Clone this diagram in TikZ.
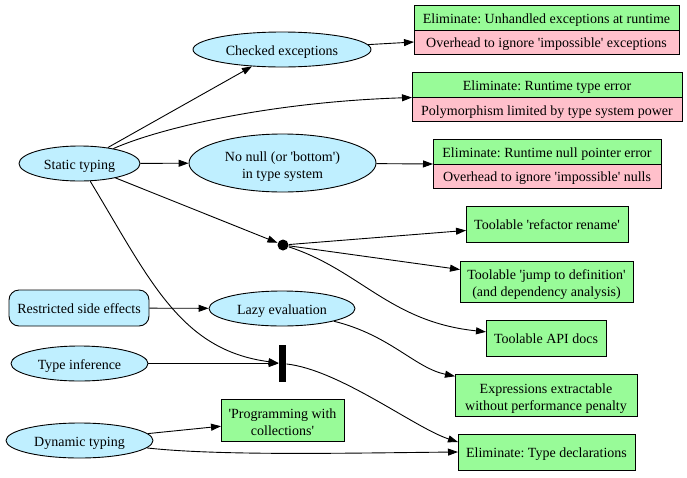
\documentclass[tikz,border=0pt]{standalone}
\usepackage{fontspec}
\setmainfont{Liberation Serif}
\usepackage{tikz}
\usetikzlibrary{shapes.geometric,arrows.meta,positioning,calc}
\definecolor{skyfill}{RGB}{191,239,255}
\definecolor{gainfill}{RGB}{152,251,152}
\definecolor{costfill}{RGB}{255,192,203}
\newcommand{\tq}{\textquotesingle}
\frenchspacing
\tikzstyle{dep}=[
  x=1pt,y=-1pt,>={Triangle[length=10pt,width=7pt]},line width=0.9pt,
  every node/.style={font=\fontsize{14}{17}\selectfont,align=center,inner sep=0pt,
    text height=11.5pt,text depth=0pt}
]
\tikzstyle{twoline}=[
  text height=30.5pt,text depth=0pt
]
\tikzstyle{feat}=[
  draw,ellipse,fill=skyfill,minimum height=35pt
]
\tikzstyle{gain}=[
  draw,rectangle,fill=gainfill,outer sep=0pt
]
\tikzstyle{cost}=[
  draw,rectangle,fill=costfill,outer sep=0pt
]

\begin{document}
\begin{tikzpicture}[dep]
    \useasboundingbox (0,0) rectangle (687,477);
    % features
    \node[feat,minimum width=121pt] (st) at (79.5,163.5) {Static typing};
    \node[feat,minimum width=178pt] (chk) at (282,49.5) {Checked exceptions};
    \node[feat,twoline,minimum width=187pt,minimum height=58pt] (nn) at (282.5,163) {No null (or \tq bottom\tq)\\in type system};
    \node[circle,fill=black,minimum size=11pt,text height=0pt] (dot) at (283,245) {};
    \node[draw,fill=skyfill,rounded corners=10pt,minimum width=140pt,minimum height=36pt] (rse) at (79,308) {Restricted side effects};
    \node[feat,minimum width=146pt] (lz) at (282,308.5) {Lazy evaluation};
    \node[feat,minimum width=137pt] (ti) at (79.5,363.5) {Type inference};
    \node[fill=black,minimum width=7pt,minimum height=37pt,text height=0pt] (bar) at (282.5,363.5) {};
    \node[feat,minimum width=147pt] (dyn) at (79.5,440.5) {Dynamic typing};
    \node[gain,twoline,minimum width=123pt,minimum height=42pt] (coll) at (282.5,420) {\tq Programming with\\collections\tq};
    % records
    \node[gain,minimum width=265pt,minimum height=25pt] (ce) at (546.5,17.5) {Eliminate: Unhandled exceptions at runtime};
    \node[cost,minimum width=265pt,minimum height=24pt,below=0pt of ce] (ceo) {Overhead to ignore \tq impossible\tq{} exceptions};
    \node[gain,minimum width=270pt,minimum height=25pt] (rt) at (547,85) {Eliminate: Runtime type error};
    \node[cost,minimum width=270pt,minimum height=24pt,below=0pt of rt] (rtp) {Polymorphism limited by type system power};
    \node[gain,minimum width=228pt,minimum height=25pt] (np) at (547,151.5) {Eliminate: Runtime null pointer error};
    \node[cost,minimum width=228pt,minimum height=24pt,below=0pt of np] (npo) {Overhead to ignore \tq impossible\tq{} nulls};
    % outcomes
    \node[gain,minimum width=162pt,minimum height=36pt] (ren) at (547,224) {Toolable \tq refactor rename\tq};
    \node[gain,twoline,minimum width=173pt,minimum height=41pt] (jmp) at (546.5,281.5) {Toolable \tq jump to definition\tq\\(and dependency analysis)};
    \node[gain,minimum width=120pt,minimum height=36pt] (api) at (546,338) {Toolable API docs};
    \node[gain,twoline,minimum width=182pt,minimum height=42pt] (ex) at (546,395) {Expressions extractable\\without performance penalty};
    \node[gain,minimum width=177pt,minimum height=36pt] (eld) at (546.5,452) {Eliminate: Type declarations};
    % edges
    \draw[->] (st) -- (chk);
    \draw[->] (st) .. controls (160,128) and (270,102) .. (rt.south west);
    \draw[->] (st) -- (nn);
    \draw[->] (st) -- (dot);
    \draw[->] (st) .. controls (150,280) and (180,350) .. (bar);
    \draw[->] (chk) -- (ceo.west);
    \draw[->] (nn) -- (np.south west);
    \draw[->] (dot) -- (ren);
    \draw[->] (dot) -- (jmp);
    \draw[->] (dot) .. controls (360,270) and (390,322) .. (api);
    \draw[->] (rse) -- (lz);
    \draw[->] (lz) .. controls (390,335) and (415,368) .. (ex);
    \draw[->] (ti) -- (bar);
    \draw[->] (bar) .. controls (340,370) and (415,428) .. ($(eld.west)+(0,-10)$);
    \draw[->] (dyn) -- (coll);
    \draw[->] (dyn) .. controls (220,456) and (350,453) .. (eld.west);
\end{tikzpicture}
\end{document}
